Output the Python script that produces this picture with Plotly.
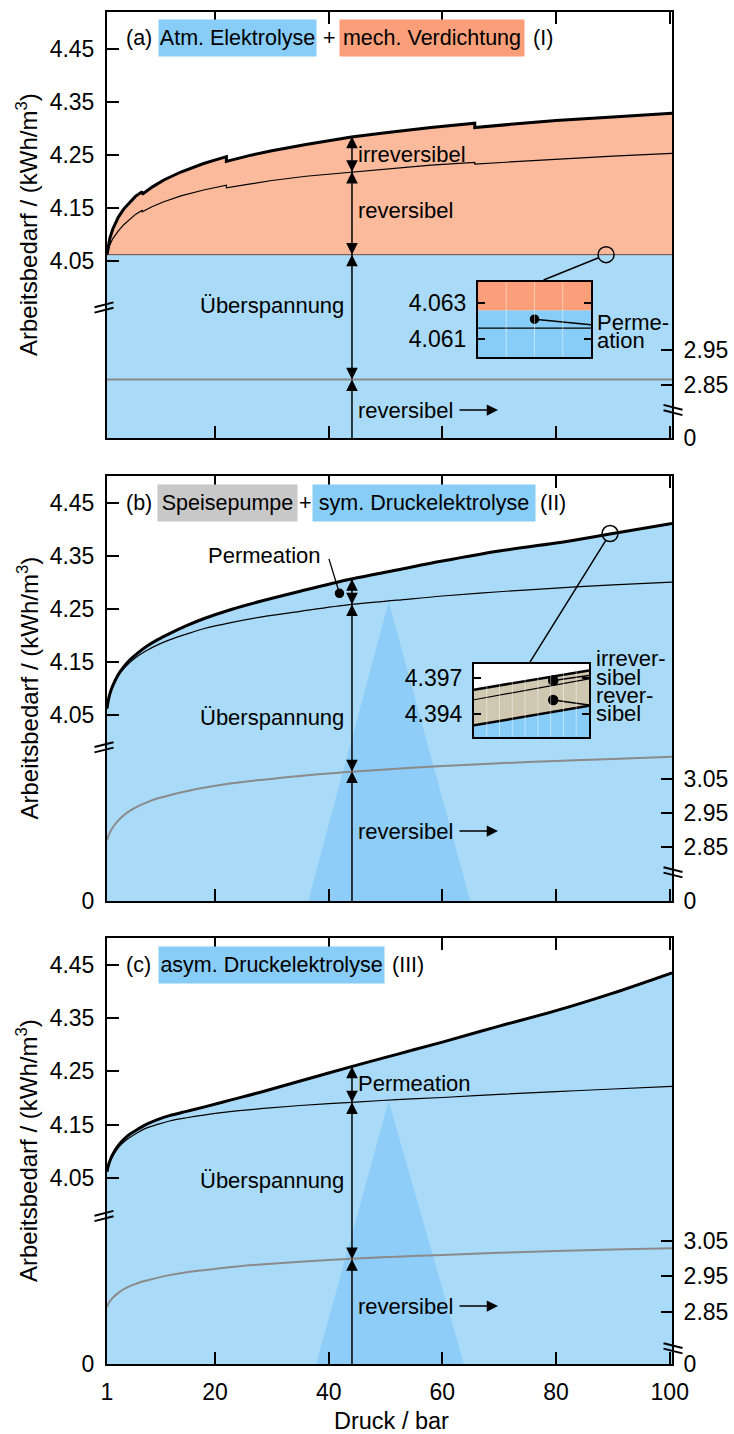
import plotly.graph_objects as go

# ---------------- canvas helpers ----------------
W, H = 734, 1434
ML, MR, MT, MB = 107, 62, 12, 70
PW, PH = W - ML - MR, H - MT - MB


def fx(px):
    return (px - ML) / PW


def fy(py):
    return (H - MB - py) / PH


FONT = "Liberation Sans, Arial, Helvetica, sans-serif"
BLUE_FILL = "#a9dbf8"
BLUE_DARK = "#8dcdf7"
BLUE_BOX = "#88ccf8"
ORANGE_FILL = "#fbba9c"
ORANGE_BOX = "#fa9f7a"
GRAY_BOX = "#c8c8c8"
BEIGE = "#cfc7b0"
GRAY_LINE = "#8a8a8a"

# ---------------- data ----------------
p_range = [1, 100.4]
x_ticks = [1, 20, 40, 60, 80, 100]
left_ticks = [4.05, 4.15, 4.25, 4.35, 4.45]

# (a) atmospheric electrolysis + mechanical compression (multi-stage)
p_a = [1, 1.2, 1.5, 2, 3, 4, 5, 6, 7.2, 7.2, 9, 11, 14, 18, 22, 22, 26, 30, 36, 44,
       50, 58, 65.7, 65.7, 72, 80, 90, 100.4]
total_a = [4.062, 4.078, 4.093, 4.110, 4.133, 4.149, 4.161, 4.172, 4.181, 4.176,
           4.190, 4.203, 4.218, 4.234, 4.247, 4.238, 4.249, 4.258, 4.270, 4.284,
           4.292, 4.302, 4.310, 4.302, 4.308, 4.315, 4.322, 4.329]
rev_comp_a = [4.062, 4.071, 4.080, 4.092, 4.107, 4.119, 4.129, 4.138, 4.146, 4.143,
              4.153, 4.162, 4.173, 4.184, 4.193, 4.188, 4.195, 4.202, 4.210, 4.218,
              4.224, 4.231, 4.236, 4.233, 4.237, 4.242, 4.248, 4.253]
electrolysis_a = 4.062
rev_cell_a = 2.866

# (b) and (c) share the pressure grid
p_bc = [1, 1.2, 1.5, 2, 3, 4, 5, 6.5, 8, 10, 12, 15, 18, 23, 28, 35, 44, 52, 60, 70,
        80, 90, 100.4]
total_b = [4.062, 4.076, 4.090, 4.105, 4.127, 4.142, 4.154, 4.168, 4.180, 4.193,
           4.204, 4.219, 4.232, 4.250, 4.265, 4.284, 4.307, 4.324, 4.341, 4.360,
           4.375, 4.393, 4.412]
thin_b = [4.062, 4.075, 4.088, 4.103, 4.124, 4.138, 4.149, 4.162, 4.172, 4.183,
          4.192, 4.203, 4.213, 4.225, 4.235, 4.246, 4.259, 4.267, 4.275, 4.283,
          4.290, 4.296, 4.301]
rev_cell_b = [2.871, 2.881, 2.893, 2.908, 2.929, 2.945, 2.957, 2.971, 2.982, 2.994,
              3.003, 3.015, 3.025, 3.038, 3.048, 3.060, 3.072, 3.081, 3.089, 3.097,
              3.104, 3.110, 3.116]

total_c = [4.062, 4.072, 4.082, 4.094, 4.111, 4.123, 4.132, 4.142, 4.151, 4.160,
           4.167, 4.175, 4.183, 4.197, 4.211, 4.232, 4.259, 4.282, 4.305, 4.335,
           4.364, 4.397, 4.435]
thin_c = [4.062, 4.071, 4.080, 4.091, 4.107, 4.118, 4.126, 4.136, 4.144, 4.151,
          4.157, 4.163, 4.168, 4.175, 4.180, 4.186, 4.192, 4.197, 4.201, 4.207,
          4.212, 4.217, 4.222]
rev_cell_c = [2.864, 2.871, 2.879, 2.889, 2.903, 2.914, 2.922, 2.931, 2.938, 2.946,
              2.953, 2.961, 2.967, 2.976, 2.983, 2.991, 2.999, 3.005, 3.010, 3.016,
              3.021, 3.025, 3.029]

# vertical double arrows (pressure, levels)
arrow_p = 44.1
arrows_a = dict(top=4.285, pairs=[4.2185, 4.062], rev=2.866)
arrows_b = dict(top=4.307, pairs=[4.259], rev=3.073)
arrows_c = dict(top=4.259, pairs=[4.192], rev=2.998)

# zoom circles
circle_a = (88.8, 4.062)
circle_b = (89.5, 4.393)
perm_dot_b = (41.9, 4.280)

# light highlight triangles (pressure of base left, apex, base right; apex level)
tri_b = dict(p=[36.4, 50.56, 64.9], apex=4.264)
tri_c = dict(p=[37.8, 50.56, 63.8], apex=4.194)

# inset (a)
ins_a_p = [88.6, 89.0]
ins_a_boundary = 4.0626
ins_a_perm = 4.0616
ins_a_dot = (88.8, 4.0621)
ins_a_ptr_end = 4.0618
ins_a_ticks = [4.061, 4.063]
ins_a_grid = [88.7, 88.8, 88.9]
# inset (b)
ins_b_p = [89.0, 89.9]
ins_b_lower = [4.39308, 4.39470]
ins_b_mid = [4.39520, 4.39694]
ins_b_upper = [4.39604, 4.39764]
ins_b_dots = [(89.62, 4.39680, 4.39722), (89.62, 4.39518, 4.39476)]
ins_b_ticks = [4.394, 4.397]
ins_b_grid = [89.1, 89.2, 89.3, 89.4, 89.5, 89.6, 89.7, 89.8]

# axis ranges (left scale / right scale) and domains
rng = {
    'a': dict(left=[3.716, 4.520], right=[2.6986, 3.9157], dom=[fy(438), fy(12)],
              rticks=[2.85, 2.95]),
    'b': dict(left=[3.6984, 4.5018], right=[2.692, 3.942], dom=[fy(901), fy(476)],
              rticks=[2.85, 2.95, 3.05]),
    'c': dict(left=[3.701, 4.5003], right=[2.7027, 3.9027], dom=[fy(1364), fy(938)],
              rticks=[2.85, 2.95, 3.05]),
}
ins_a_range = [4.0600, 4.06417]
ins_b_range = [4.39211, 4.39817]

fig = go.Figure()


def lt(x, y, xa, ya, color='black', width=1.2, fill=None, fillcolor=None, shape='linear'):
    return go.Scatter(x=x, y=y, xaxis=xa, yaxis=ya, mode='lines',
                      line=dict(color=color, width=width, shape=shape),
                      fill=fill, fillcolor=fillcolor, hoverinfo='skip', showlegend=False)


def mk(x, y, xa, ya, symbol='circle', size=8, color='black', lw=1.5):
    return go.Scatter(x=x, y=y, xaxis=xa, yaxis=ya, mode='markers', cliponaxis=False,
                      marker=dict(symbol=symbol, size=size, color=color,
                                  line=dict(color='black', width=lw)),
                      hoverinfo='skip', showlegend=False)


# ---------- panel (a) ----------
ra = rng['a']
fig.add_trace(lt(p_range, [electrolysis_a] * 2, 'x', 'y', width=0, fill='tozeroy', fillcolor=BLUE_FILL))
fig.add_trace(lt(p_a, total_a, 'x', 'y', width=0, fill='tonexty', fillcolor=ORANGE_FILL))
fig.add_trace(lt(p_range, [electrolysis_a] * 2, 'x', 'y', color='#6b4a3c', width=1))
fig.add_trace(lt(p_a, rev_comp_a, 'x', 'y', width=1.2))
fig.add_trace(lt(p_a, total_a, 'x', 'y', width=3))
fig.add_trace(lt([arrow_p] * 2, [arrows_a['top'], ra['left'][0]], 'x', 'y', width=1.5))
fig.add_trace(mk([circle_a[0]], [circle_a[1]], 'x', 'y', symbol='circle-open', size=16))
fig.add_trace(lt(p_range, [rev_cell_a] * 2, 'x', 'y2', color=GRAY_LINE, width=2))

# ---------- panel (b) ----------
rb = rng['b']
fig.add_trace(lt(p_bc, total_b, 'x2', 'y3', width=0, fill='tozeroy', fillcolor=BLUE_FILL, shape='spline'))
fig.add_trace(go.Scatter(x=tri_b['p'], y=[rb['left'][0], tri_b['apex'], rb['left'][0]],
                         xaxis='x2', yaxis='y3', mode='lines', fill='toself',
                         fillcolor=BLUE_DARK, line=dict(width=0), hoverinfo='skip', showlegend=False))
fig.add_trace(lt(p_bc, thin_b, 'x2', 'y3', width=1.2, shape='spline'))
fig.add_trace(lt(p_bc, total_b, 'x2', 'y3', width=3, shape='spline'))
fig.add_trace(lt([arrow_p] * 2, [arrows_b['top'], rb['left'][0]], 'x2', 'y3', width=1.5))
fig.add_trace(mk([perm_dot_b[0]], [perm_dot_b[1]], 'x2', 'y3', size=8))
fig.add_trace(mk([circle_b[0]], [circle_b[1]], 'x2', 'y3', symbol='circle-open', size=16))
fig.add_trace(lt(p_bc, rev_cell_b, 'x2', 'y4', color=GRAY_LINE, width=2, shape='spline'))

# ---------- panel (c) ----------
rc = rng['c']
fig.add_trace(lt(p_bc, total_c, 'x3', 'y5', width=0, fill='tozeroy', fillcolor=BLUE_FILL, shape='spline'))
fig.add_trace(go.Scatter(x=tri_c['p'], y=[rc['left'][0], tri_c['apex'], rc['left'][0]],
                         xaxis='x3', yaxis='y5', mode='lines', fill='toself',
                         fillcolor=BLUE_DARK, line=dict(width=0), hoverinfo='skip', showlegend=False))
fig.add_trace(lt(p_bc, thin_c, 'x3', 'y5', width=1.2, shape='spline'))
fig.add_trace(lt(p_bc, total_c, 'x3', 'y5', width=3, shape='spline'))
fig.add_trace(lt([arrow_p] * 2, [arrows_c['top'], rc['left'][0]], 'x3', 'y5', width=1.5))
fig.add_trace(lt(p_bc, rev_cell_c, 'x3', 'y6', color=GRAY_LINE, width=2, shape='spline'))

# ---------- inset (a) ----------
fig.add_trace(lt(ins_a_p, [ins_a_boundary] * 2, 'x4', 'y7', width=0, fill='tozeroy', fillcolor=BLUE_BOX))
fig.add_trace(lt(ins_a_p, [ins_a_range[1]] * 2, 'x4', 'y7', width=0, fill='tonexty', fillcolor=ORANGE_BOX))
fig.add_trace(lt(ins_a_p, [ins_a_perm] * 2, 'x4', 'y7', width=1.2))
fig.add_trace(lt([ins_a_dot[0], ins_a_p[1]], [ins_a_dot[1], ins_a_ptr_end], 'x4', 'y7', width=1.5))
fig.add_trace(mk([ins_a_dot[0]], [ins_a_dot[1]], 'x4', 'y7', size=8))

# ---------- inset (b) ----------
fig.add_trace(lt(ins_b_p, ins_b_lower, 'x5', 'y8', width=2.5, fill='tozeroy', fillcolor=BLUE_BOX))
fig.add_trace(lt(ins_b_p, ins_b_upper, 'x5', 'y8', width=2.5, fill='tonexty', fillcolor=BEIGE))
fig.add_trace(lt(ins_b_p, ins_b_mid, 'x5', 'y8', width=1.2))
for (dp, dv, ev) in ins_b_dots:
    fig.add_trace(lt([dp, ins_b_p[1]], [dv, ev], 'x5', 'y8', width=1.5))
    fig.add_trace(mk([dp], [dv], 'x5', 'y8', size=9))

# ---------------- axes ----------------
axis_common = dict(showgrid=False, zeroline=False, showline=True, linecolor='black',
                   linewidth=2, ticks='inside', tickcolor='black', tickwidth=2,
                   automargin=False, tickfont=dict(size=23, color='black'))

layout = dict(
    template='none',
    width=W, height=H, autosize=False, margin=dict(l=ML, r=MR, t=MT, b=MB, pad=0),
    plot_bgcolor='white', paper_bgcolor='white', showlegend=False,
    font=dict(family=FONT, size=23, color='black'),
)

xnames = ['xaxis', 'xaxis2', 'xaxis3']
ypairs = [('yaxis', 'yaxis2', 'y', 'y2'), ('yaxis3', 'yaxis4', 'y3', 'y4'),
          ('yaxis5', 'yaxis6', 'y5', 'y6')]
keys = ['a', 'b', 'c']
for i, k in enumerate(keys):
    r = rng[k]
    ly, ry, lid, rid = ypairs[i]
    xid = xnames[i].replace('axis', '')
    layout[xnames[i]] = dict(axis_common, domain=[0, 1], range=p_range, anchor=lid,
                             tickvals=x_ticks, ticklen=12, mirror='ticks',
                             showticklabels=(k == 'c'), ticklabelstandoff=6)
    ltv = list(left_ticks)
    ltt = [f"{v:.2f}" for v in left_ticks]
    if k != 'a':
        ltv = [r['left'][0] + 1e-4] + ltv
        ltt = ['0'] + ltt
    layout[ly] = dict(axis_common, domain=r['dom'], range=r['left'], anchor=xid,
                      tickvals=ltv, ticktext=ltt, ticklen=12, ticklabelstandoff=6)
    rtv = [r['right'][0] + 1e-4] + r['rticks']
    rtt = ['0'] + [f"{v:.2f}" for v in r['rticks']]
    layout[ry] = dict(axis_common, range=r['right'], overlaying=lid, side='right',
                      anchor=xid, tickvals=rtv, ticktext=rtt,
                      ticklen=11, ticklabelstandoff=5)

# insets
layout['xaxis4'] = dict(axis_common, domain=[fx(478), fx(591)], range=ins_a_p, anchor='y7',
                        ticks='', showticklabels=False, mirror=True)
layout['yaxis7'] = dict(axis_common, domain=[fy(357), fy(282)], range=ins_a_range, anchor='x4',
                        tickvals=ins_a_ticks, ticktext=[f"{v:.3f}" for v in ins_a_ticks],
                        ticklen=7, mirror='ticks', ticklabelstandoff=5)
layout['xaxis5'] = dict(axis_common, domain=[fx(474), fx(589)], range=ins_b_p, anchor='y8',
                        ticks='', showticklabels=False, mirror=True)
layout['yaxis8'] = dict(axis_common, domain=[fy(737), fy(664)], range=ins_b_range, anchor='x5',
                        tickvals=ins_b_ticks, ticktext=[f"{v:.3f}" for v in ins_b_ticks],
                        ticklen=7, mirror='ticks', ticklabelstandoff=5)

fig.update_layout(**layout)

# ---------------- shapes ----------------
shapes = []
for g in ins_a_grid:
    shapes.append(dict(type='line', xref='x4', yref='y7 domain', x0=g, x1=g, y0=0, y1=1,
                       line=dict(color='rgba(255,255,255,0.45)', width=1), layer='above'))
for g in ins_b_grid:
    shapes.append(dict(type='line', xref='x5', yref='y8 domain', x0=g, x1=g, y0=0, y1=1,
                       line=dict(color='rgba(255,255,255,0.45)', width=1), layer='above'))


def brk(cx, cy, rising):
    out = []
    for kk in (-1, 1):
        s = 2.4 if rising else -2.4
        out.append(dict(type='line', xref='paper', yref='paper',
                        x0=fx(cx - 9.5), y0=fy(cy + kk * 2.7 + s),
                        x1=fx(cx + 9.5), y1=fy(cy + kk * 2.7 - s),
                        line=dict(color='black', width=2), layer='above'))
    return out


for cy in (307.5, 747.3, 1216):
    shapes += brk(104, cy, True)
for cy in (410, 872.3, 1348.3):
    shapes += brk(673, cy, False)
fig.update_layout(shapes=shapes)

# ---------------- annotations ----------------
ann = []
TXT = 22


def txt(text, px, py, xanchor='left', size=TXT, **kw):
    d = dict(xref='paper', yref='paper', x=fx(px), y=fy(py), text=text, showarrow=False,
             xanchor=xanchor, yanchor='middle', font=dict(size=size, color='black'))
    d.update(kw)
    return d


def box(text, x0, x1, cy, color):
    return dict(xref='paper', yref='paper', x=fx((x0 + x1) / 2), y=fy(cy), text=text,
                showarrow=False, xanchor='center', yanchor='middle', bgcolor=color,
                width=x1 - x0, height=36, borderpad=0, font=dict(size=21.5, color='black'))


# title rows
ann += [txt('(a)', 124, 38, size=21.5), box('Atm. Elektrolyse', 159, 316, 38, BLUE_BOX),
        txt('+', 329, 38, xanchor='center', size=21.5),
        box('mech. Verdichtung', 340, 524, 38, ORANGE_BOX), txt('(I)', 531, 38, size=21.5)]
ann += [txt('(b)', 124, 503, size=21.5), box('Speisepumpe', 158, 297, 503, GRAY_BOX),
        txt('+', 305, 503, xanchor='center', size=21.5),
        box('sym. Druckelektrolyse', 313, 535, 503, BLUE_BOX), txt('(II)', 538, 503, size=21.5)]
ann += [txt('(c)', 124, 965, size=21.5), box('asym. Druckelektrolyse', 159, 384, 965, BLUE_BOX),
        txt('(III)', 390, 965, size=21.5)]

# y titles
for cy in (225, 688.5, 1151):
    ann.append(txt('Arbeitsbedarf / (kWh/m<sup>3</sup>)', 27, cy, xanchor='center', size=24,
                   textangle=-90))
# x title
ann.append(txt('Druck / bar', 391, 1421, xanchor='center', size=23.5))


def stacked(text, px, py):
    return txt(text, px, py, height=18, valign='middle')


# panel labels
ann += [txt('irreversibel', 356, 155), txt('reversibel', 356, 210),
        txt('Überspannung', 346, 305, xanchor='right'), txt('reversibel', 356, 410),
        stacked('Perme-', 595, 322), stacked('ation', 595, 340)]
ann += [txt('Permeation', 323, 555, xanchor='right'), txt('Überspannung', 346, 717, xanchor='right'),
        txt('reversibel', 356, 831),
        stacked('irrever-', 594, 658), stacked('sibel', 594, 676.5), stacked('rever-', 594, 695),
        stacked('sibel', 594, 713)]
ann += [txt('Permeation', 356, 1083), txt('Überspannung', 346, 1180, xanchor='right'),
        txt('reversibel', 356, 1306)]

# horizontal arrows after "reversibel"
for cy in (410, 831, 1306):
    ann.append(dict(xref='paper', yref='paper', x=fx(498), y=fy(cy), ax=-40, ay=0, text='',
                    showarrow=True, arrowhead=2, arrowsize=1.5, arrowwidth=1.5, arrowcolor='black'))


def head(xr, yr, x, y, up):
    return dict(xref=xr, yref=yr, x=x, y=y, ax=0, ay=(12 if up else -12), text='',
                showarrow=True, arrowhead=2, arrowsize=1.55, arrowwidth=1.5, arrowcolor='black')


for (xr, yl, yr_, arr) in (('x', 'y', 'y2', arrows_a), ('x2', 'y3', 'y4', arrows_b),
                           ('x3', 'y5', 'y6', arrows_c)):
    ann.append(head(xr, yl, arrow_p, arr['top'], True))
    for v in arr['pairs']:
        ann.append(head(xr, yl, arrow_p, v, False))
        ann.append(head(xr, yl, arrow_p, v, True))
    ann.append(head(xr, yr_, arrow_p, arr['rev'], False))
    ann.append(head(xr, yr_, arrow_p, arr['rev'], True))

# connectors from zoom circles to insets
ann.append(dict(xref='x', yref='y', x=circle_a[0], y=circle_a[1], ax=-64, ay=26, text='',
                showarrow=True, arrowhead=0, arrowwidth=1.5, arrowcolor='black', standoff=8))
ann.append(dict(xref='x2', yref='y3', x=circle_b[0], y=circle_b[1], ax=-81, ay=130, text='',
                showarrow=True, arrowhead=0, arrowwidth=1.5, arrowcolor='black', standoff=8))
# permeation pointer (b)
ann.append(dict(xref='x2', yref='y3', x=perm_dot_b[0], y=perm_dot_b[1], ax=-11, ay=-36, text='',
                showarrow=True, arrowhead=0, arrowwidth=1.3, arrowcolor='black', standoff=4))

fig.update_layout(annotations=ann)
fig.write_html("out.html", config={'displayModeBar': False, 'responsive': False},
               post_script="document.body.style.margin='0px';document.body.style.overflow='hidden';")
